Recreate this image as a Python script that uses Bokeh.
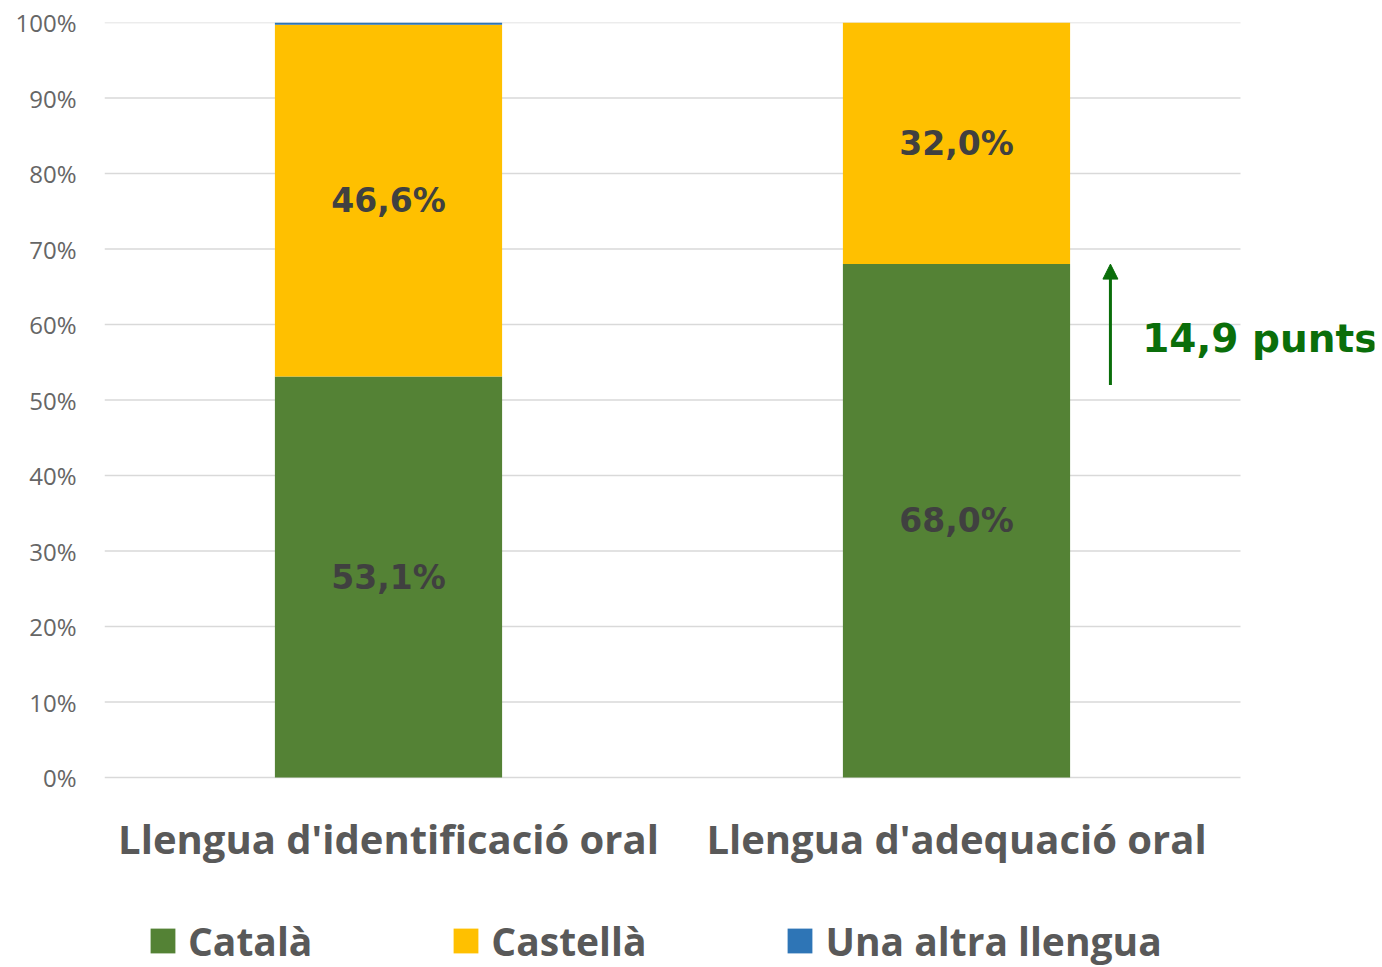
from bokeh.plotting import figure
from bokeh.models import (ColumnDataSource, Range1d, FixedTicker, PrintfTickFormatter,
                          Legend, LegendItem, Arrow, NormalHead)
from bokeh.core.properties import value
from bokeh.embed import file_html
from bokeh.resources import INLINE

# ---- data ----
categories = ["Llengua d'identificació oral", "Llengua d'adequació oral"]
series = ["Català", "Castellà", "Una altra llengua"]
catala = [53.1, 68.0]
castella = [46.6, 32.0]
altra = [0.3, 0.0]
colors = ["#548235", "#FFC000", "#2E75B6"]
y_ticks = [0, 10, 20, 30, 40, 50, 60, 70, 80, 90, 100]
diff_label = "14,9 punts"

x_pos = [0.5, 1.5]

def fmt(v):
    return ("%.1f" % v).replace(".", ",") + "%"

# frame covers plot area plus room beneath it for category labels and legend
px_per_unit = 755 / 100.0
below_px = 190
p = figure(frame_width=1270, frame_height=755 + below_px, min_border_left=104, min_border_right=8,
           min_border_top=22, min_border_bottom=0,
           x_range=Range1d(0, 1270 / 568), y_range=Range1d(-below_px / px_per_unit, 100),
           output_backend="svg", toolbar_location=None,
           background_fill_color="white", border_fill_color="white")
p.outline_line_color = None
p.grid.visible = False

# horizontal gridlines
p.segment(x0=[0] * len(y_ticks), x1=[2] * len(y_ticks), y0=y_ticks, y1=y_ticks,
          line_color="#d9d9d9", line_width=1.5)

src = ColumnDataSource(dict(x=x_pos, catala=catala, castella=castella, altra=altra))
rs = p.vbar_stack(["catala", "castella", "altra"], x="x", width=0.4, color=colors,
                  line_color=None, source=src)

# bar value labels
lab_x, lab_y, lab_t = [], [], []
for i in range(2):
    lab_x += [x_pos[i], x_pos[i]]
    lab_y += [catala[i] / 2, catala[i] + castella[i] / 2]
    lab_t += [fmt(catala[i]), fmt(castella[i])]
p.text(x=lab_x, y=lab_y, text=lab_t, text_font=value("DejaVu Sans"), text_font_style="bold",
       text_font_size="33px", text_color="#404040", text_align="center", text_baseline="middle")

# arrow annotation
arrow_x = 1.771
p.add_layout(Arrow(end=NormalHead(size=15, fill_color="#0a6e0a", line_color="#0a6e0a"),
                   x_start=arrow_x, y_start=52.0, x_end=arrow_x, y_end=68.0,
                   line_color="#0a6e0a", line_width=3))
p.text(x=[1.827], y=[58.1], text=[diff_label], text_font=value("DejaVu Sans"),
       text_font_style="bold", text_font_size="39px", text_color="#0a6e0a",
       text_align="left", text_baseline="middle")

# axes
xa = p.xaxis[0]
xa.fixed_location = 0
xa.ticker = FixedTicker(ticks=x_pos)
xa.major_label_overrides = {x_pos[i]: categories[i] for i in range(2)}
xa.axis_line_color = None
xa.major_tick_line_color = None
xa.minor_tick_line_color = None
xa.major_label_text_font = "Open Sans"
xa.major_label_text_font_style = "bold"
xa.major_label_text_font_size = "40px"
xa.major_label_text_color = "#595959"
xa.major_label_standoff = 27

ya = p.yaxis[0]
ya.ticker = FixedTicker(ticks=y_ticks)
ya.formatter = PrintfTickFormatter(format="%d%%")
ya.axis_line_color = None
ya.major_tick_line_color = None
ya.minor_tick_line_color = None
ya.major_label_text_font = "Open Sans"
ya.major_label_text_font_size = "24px"
ya.major_label_text_color = "#666666"
ya.major_label_standoff = 22

legend = Legend(items=[LegendItem(label=series[i], renderers=[rs[i]]) for i in range(3)],
                orientation="horizontal", location=(43, 0),
                glyph_width=31, glyph_height=31, label_standoff=10, spacing=138,
                padding=0, margin=0, border_line_color=None, background_fill_alpha=0,
                label_text_font="Open Sans", label_text_font_style="bold",
                label_text_font_size="39px", label_text_color="#595959")
p.add_layout(legend, "center")

open("out.html", "w").write(file_html(p, INLINE))
